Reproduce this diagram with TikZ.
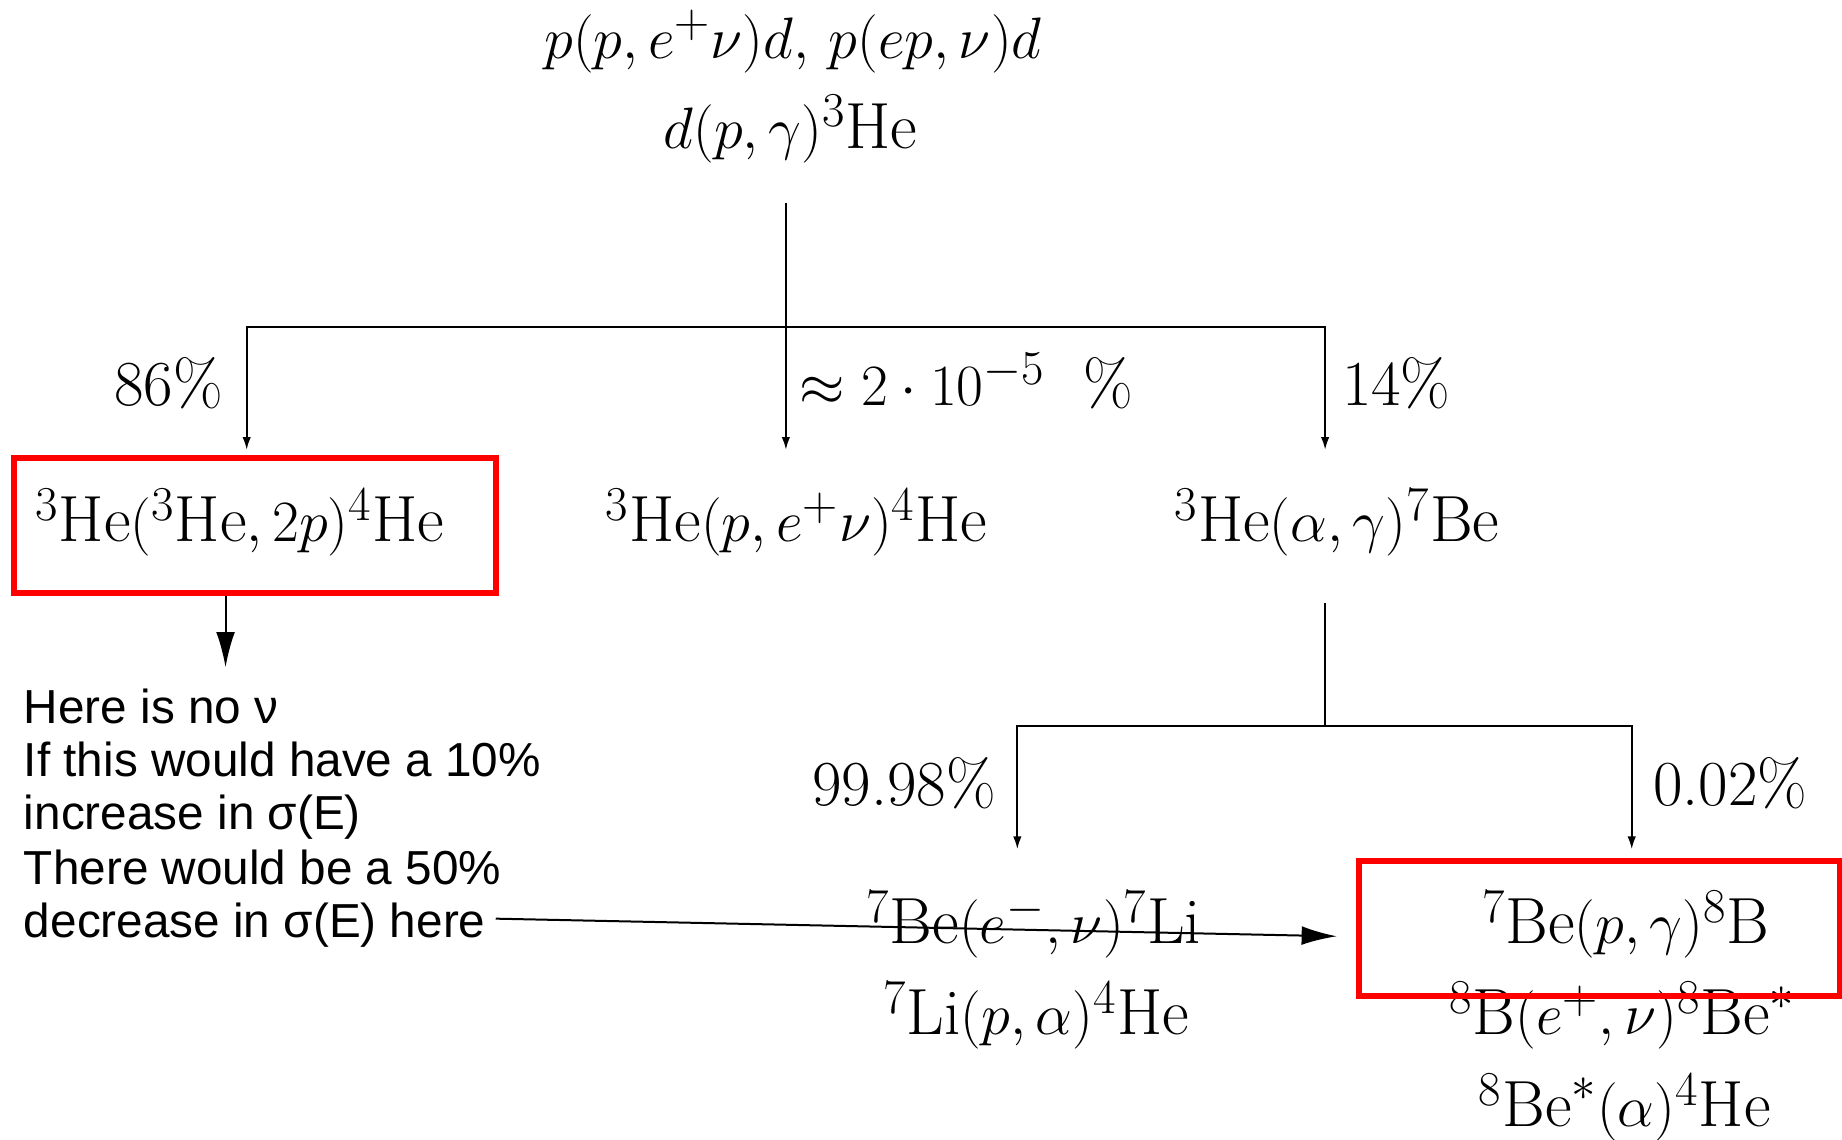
\documentclass[tikz,border=0pt]{standalone}
\usepackage{fontspec}
\newfontfamily\notefont{Liberation Sans}
\usetikzlibrary{arrows.meta}
\begin{document}
\begin{tikzpicture}[x=0.5pt,y=-0.5pt,
  eq/.style={font=\fontsize{27.8}{33}\selectfont, inner sep=0pt, anchor=base},
  pct/.style={font=\fontsize{27.3}{33}\selectfont, inner sep=0pt},
  note/.style={font=\notefont\fontsize{20.3}{22.85}\selectfont, inner sep=0pt, anchor=base west},
  conn/.style={line width=0.85pt},
  tip/.style={conn, -{Latex[length=5.5pt,width=3.6pt]}},
  bigtip/.style={conn, -{Latex[length=15pt,width=8pt]}},
  redbox/.style={draw=red, line width=2.6pt, inner sep=0pt}]
\useasboundingbox (0,0) rectangle (1568,970);

% top reactions
\node[eq] (top1) at (675,50) {$p(p,e^+\nu)d,\, p(ep,\nu)d$};
\node[eq] (top2) at (673,126) {$d(p,\gamma)^3\mathrm{He}$};

% first branching
\coordinate (s1) at (669,173);
\coordinate (j1) at (669,278);
\coordinate (e1) at (210,383);
\coordinate (e2) at (669,383);
\coordinate (e3) at (1128,383);
\draw[tip] (s1) -- (j1) -| (e1);
\draw[tip] (j1) -- (e2);
\draw[tip] (j1) -| (e3);

\node[pct, anchor=base east] (p86) at (190,345) {86\%};
\node[pct, anchor=base west] (p2) at (680,345) {$\approx 2\cdot 10^{-5}$\hspace{0.6em}\%};
\node[pct, anchor=base west] (p14) at (1142,345) {14\%};

% second row
\node[redbox, minimum width=205pt, minimum height=57.5pt] (box1) at (217,447.5) {};
\node[eq] (r1) at (204,461) {$^3\mathrm{He}(^3\mathrm{He},2p)^4\mathrm{He}$};
\node[eq] (r2) at (678,461) {$^3\mathrm{He}(p,e^+\nu)^4\mathrm{He}$};
\node[eq] (r3) at (1138,461) {$^3\mathrm{He}(\alpha,\gamma)^7\mathrm{Be}$};

% note
\coordinate (n0) at (192,568);
\draw[bigtip] (box1.south -| n0) -- (n0);
\node[note] (n1) at (20,615.5) {Here is no ν};
\node[note] (n2) at (20,661) {If this would have a 10\%};
\node[note] (n3) at (20,706.5) {increase in σ(E)};
\node[note] (n4) at (20,752.5) {There would be a 50\%};
\node[note] (n5) at (20,798) {decrease in σ(E) here};

% second branching
\coordinate (s2) at (1128,513);
\coordinate (j2) at (1128,618);
\coordinate (f1) at (866,723);
\coordinate (f2) at (1389,723);
\draw[tip] (s2) -- (j2) -| (f1);
\draw[tip] (j2) -| (f2);
\node[pct, anchor=base east] (p9998) at (848,686) {99.98\%};
\node[pct, anchor=base west] (p002) at (1407,686) {0.02\%};

% third row
\node[eq] (b1) at (880,803) {$^7\mathrm{Be}(e^-,\nu)^7\mathrm{Li}$};
\node[eq] (b2) at (882,881) {$^7\mathrm{Li}(p,\alpha)^4\mathrm{He}$};
\node[eq] (c1) at (1384,803) {$^7\mathrm{Be}(p,\gamma)^8\mathrm{B}$};
\node[eq] (c2) at (1381,881) {$^8\mathrm{B}(e^+,\nu)^8\mathrm{Be}^*$};
\node[eq] (c3) at (1383,959) {$^8\mathrm{Be}^*(\alpha)^4\mathrm{He}$};
\node[redbox, minimum width=204.5pt, minimum height=57.5pt] (box2) at (1361.5,790.5) {};

% long arrow
\coordinate (a1) at (422,782);
\coordinate (a2) at (1138,797);
\draw[bigtip] (a1) -- (a2);
\end{tikzpicture}
\end{document}
